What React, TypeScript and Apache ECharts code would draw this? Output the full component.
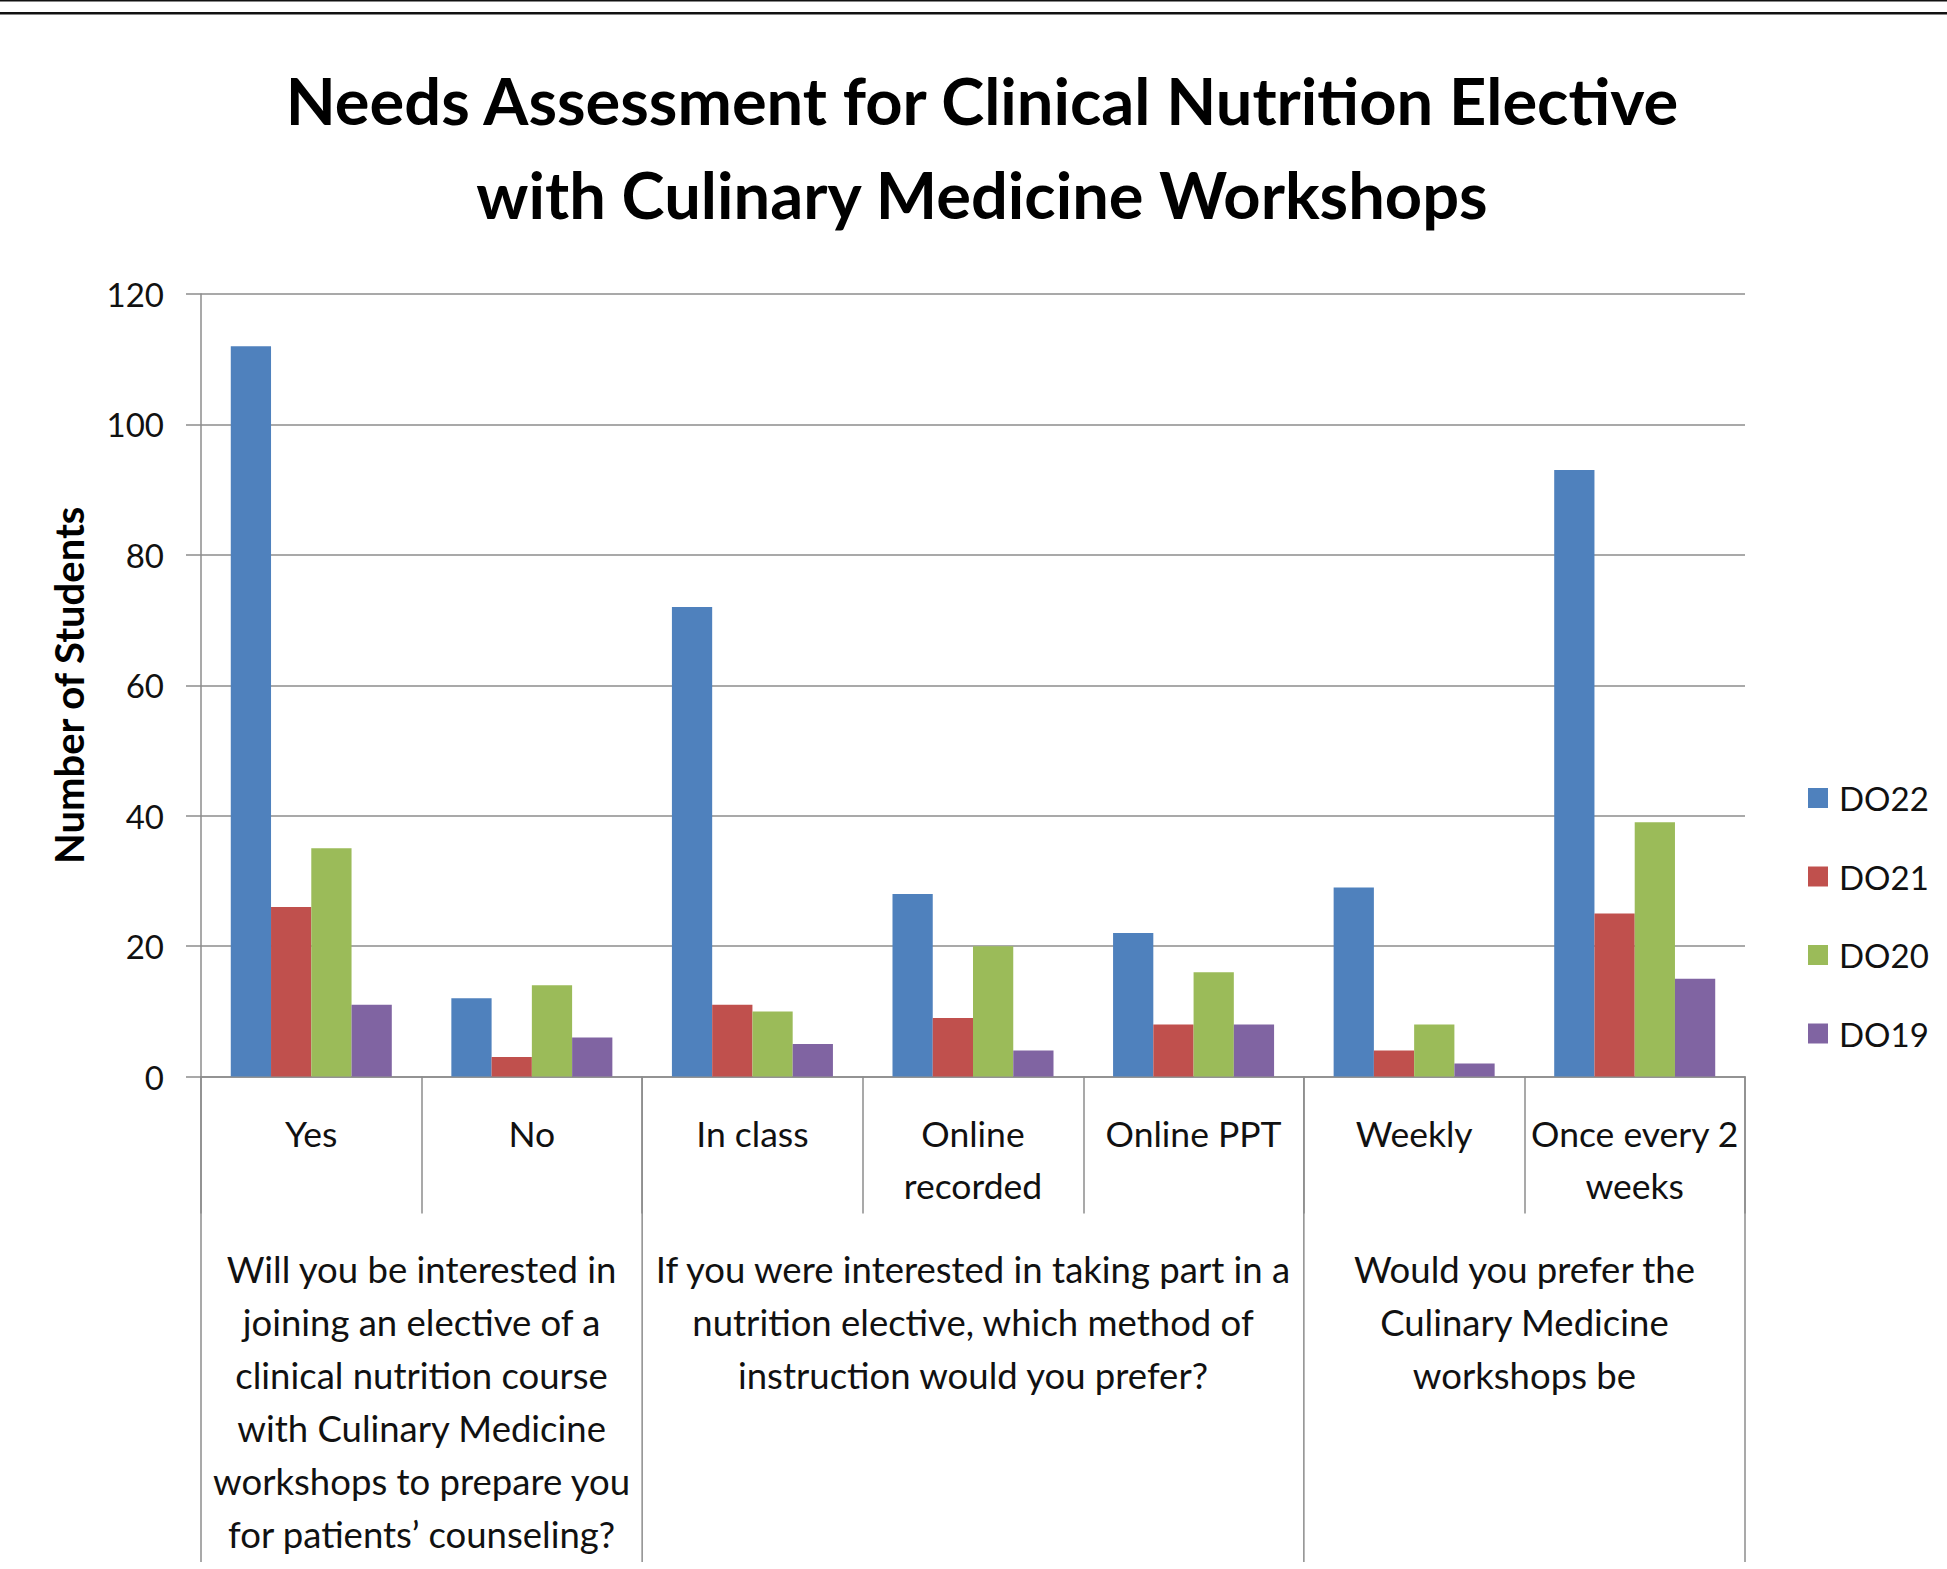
import React, { useEffect, useRef } from "react";
import * as echarts from "echarts";

const titleLines = [
  "Needs Assessment for Clinical Nutrition Elective",
  "with Culinary Medicine Workshops",
];
const yAxisTitle = "Number of Students";
const categories = [
  "Yes",
  "No",
  "In class",
  "Online\nrecorded",
  "Online PPT",
  "Weekly",
  "Once every 2\nweeks",
];
const seriesNames = ["DO22", "DO21", "DO20", "DO19"];
const do22 = [112, 12, 72, 28, 22, 29, 93];
const do21 = [26, 3, 11, 9, 8, 4, 25];
const do20 = [35, 14, 10, 20, 16, 8, 39];
const do19 = [11, 6, 5, 4, 8, 2, 15];
const groupLabels = [
  "Will you be interested in\njoining an elective of a\nclinical nutrition course\nwith Culinary Medicine\nworkshops to prepare you\nfor patients\u2019 counseling?",
  "If you were interested in taking part in a\nnutrition elective, which method of\ninstruction would you prefer?",
  "Would you prefer the\nCulinary Medicine\nworkshops be",
];
const groupSizes = [2, 3, 2];
const yMin = 0;
const yMax = 120;
const yInterval = 20;

const colors = ["#4F81BD", "#C0504D", "#9BBB59", "#8064A2"];
const FONT = "Lato";
const AXIS_GRAY = "#8c8c8c";
const TEXT = "#111";

export default function App() {
  const ref = useRef<HTMLDivElement>(null);

  useEffect(() => {
    document.body.style.margin = "0";
    const chart = echarts.init(ref.current as HTMLDivElement, null, { renderer: "svg" });
    const seriesData = [do22, do21, do20, do19];
    const option: any = {
      animation: false,
      backgroundColor: "#ffffff",
      color: colors,
      title: {
        text: titleLines.join("\n"),
        left: 982,
        textAlign: "center",
        top: 53,
        padding: 0,
        textStyle: {
          fontFamily: FONT,
          fontWeight: "bold",
          fontSize: 65,
          lineHeight: 94,
          color: "#000",
        },
      },
      grid: { left: 201, right: 202, top: 294, bottom: 492.4, containLabel: false },
      legend: {
        orient: "vertical",
        left: 1808,
        top: 778,
        padding: 0,
        icon: "rect",
        itemWidth: 20,
        itemHeight: 20,
        itemGap: 38.5,
        data: seriesNames,
        textStyle: {
          fontFamily: FONT,
          fontSize: 33,
          color: TEXT,
          lineHeight: 40,
          padding: [0, 0, 0, 6],
        },
      },
      xAxis: {
        type: "category",
        data: categories,
        axisLine: { lineStyle: { color: AXIS_GRAY, width: 1.5 } },
        axisTick: {
          show: true,
          interval: 0,
          length: 137,
          lineStyle: { color: AXIS_GRAY, width: 1.5 },
        },
        axisLabel: {
          interval: 0,
          margin: 31,
          fontFamily: FONT,
          fontSize: 35.5,
          lineHeight: 52,
          color: TEXT,
        },
      },
      yAxis: {
        type: "value",
        min: yMin,
        max: yMax,
        interval: yInterval,
        name: yAxisTitle,
        nameLocation: "middle",
        nameRotate: 90,
        nameGap: 112,
        nameTextStyle: {
          fontFamily: FONT,
          fontWeight: "bold",
          fontSize: 40,
          color: "#000",
        },
        axisLine: { show: true, lineStyle: { color: AXIS_GRAY, width: 1.5 } },
        axisTick: { show: true, length: 15, lineStyle: { color: AXIS_GRAY, width: 1.5 } },
        axisLabel: {
          margin: 37,
          fontFamily: FONT,
          fontSize: 33,
          color: TEXT,
        },
        splitLine: { show: true, lineStyle: { color: AXIS_GRAY, width: 1.5 } },
      },
      series: seriesNames.map((name, i) => ({
        name,
        type: "bar",
        data: seriesData[i],
        barGap: "0%",
        barCategoryGap: "27%",
        itemStyle: { color: colors[i] },
      })),
    };
    chart.setOption(option);

    const xs = categories.map((_, i) => chart.convertToPixel({ xAxisIndex: 0 }, i) as number);
    const band = xs[1] - xs[0];
    const boundary = (k: number) => xs[0] - band / 2 + k * band;
    const y0 = chart.convertToPixel({ yAxisIndex: 0 }, 0) as number;

    const elements: any[] = [
      { type: "rect", shape: { x: 0, y: 0, width: 1947, height: 1.6 }, style: { fill: "#111" }, silent: true },
      { type: "rect", shape: { x: 0, y: 12, width: 1947, height: 2.4 }, style: { fill: "#111" }, silent: true },
    ];
    let start = 0;
    const groupBounds = [0];
    groupSizes.forEach((n, gi) => {
      const left = boundary(start);
      const right = boundary(start + n);
      elements.push({
        type: "text",
        x: (left + right) / 2,
        y: y0 + 166,
        silent: true,
        style: {
          text: groupLabels[gi],
          align: "center",
          verticalAlign: "top",
          fontFamily: FONT,
          fontSize: 36.5,
          lineHeight: 53,
          fill: TEXT,
        },
      });
      start += n;
      groupBounds.push(start);
    });
    groupBounds.forEach((k) => {
      const x = boundary(k);
      elements.push({
        type: "line",
        silent: true,
        shape: { x1: x, y1: y0, x2: x, y2: y0 + 485.5 },
        style: { stroke: AXIS_GRAY, lineWidth: 1.5 },
      });
    });
    chart.setOption({ graphic: elements });

    return () => chart.dispose();
  }, []);

  return <div ref={ref} style={{ width: 1947, height: 1569 }} />;
}
